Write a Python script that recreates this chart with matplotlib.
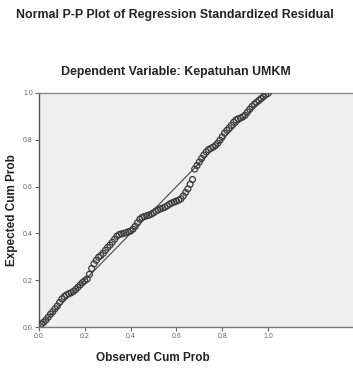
import matplotlib
matplotlib.use("Agg")
import matplotlib.pyplot as plt

plt.rcParams["font.family"] = ["Liberation Sans", "DejaVu Sans"]

# observed cumulative probability vs expected cumulative probability
observed = [0.01, 0.02, 0.03, 0.04, 0.05, 0.06, 0.07, 0.08, 0.09, 0.10,
            0.11, 0.12, 0.13, 0.14, 0.15, 0.16, 0.17, 0.18, 0.19, 0.20,
            0.21, 0.22, 0.23, 0.24, 0.25, 0.26, 0.27, 0.28, 0.29, 0.30,
            0.31, 0.32, 0.33, 0.34, 0.35, 0.36, 0.37, 0.38, 0.39, 0.40,
            0.41, 0.42, 0.43, 0.44, 0.45, 0.46, 0.47, 0.48, 0.49, 0.50,
            0.51, 0.52, 0.53, 0.54, 0.55, 0.56, 0.57, 0.58, 0.59, 0.60,
            0.61, 0.62, 0.63, 0.64, 0.65, 0.66, 0.67, 0.68, 0.69, 0.70,
            0.71, 0.72, 0.73, 0.74, 0.75, 0.76, 0.77, 0.78, 0.79, 0.80,
            0.81, 0.82, 0.83, 0.84, 0.85, 0.86, 0.87, 0.88, 0.89, 0.90,
            0.91, 0.92, 0.93, 0.94, 0.95, 0.96, 0.97, 0.98, 0.99, 1.00]
expected = [0.012, 0.020, 0.030, 0.042, 0.055, 0.065, 0.078, 0.090, 0.105, 0.120,
            0.130, 0.137, 0.142, 0.146, 0.152, 0.160, 0.170, 0.180, 0.190, 0.198,
            0.205, 0.225, 0.250, 0.270, 0.285, 0.298, 0.305, 0.315, 0.328, 0.340,
            0.350, 0.362, 0.375, 0.388, 0.395, 0.398, 0.400, 0.403, 0.407, 0.410,
            0.418, 0.430, 0.445, 0.460, 0.468, 0.472, 0.475, 0.478, 0.482, 0.488,
            0.495, 0.500, 0.505, 0.508, 0.512, 0.518, 0.525, 0.530, 0.534, 0.538,
            0.542, 0.548, 0.560, 0.575, 0.590, 0.610, 0.630, 0.675, 0.690, 0.705,
            0.720, 0.735, 0.748, 0.758, 0.763, 0.768, 0.775, 0.785, 0.798, 0.812,
            0.828, 0.840, 0.850, 0.862, 0.875, 0.885, 0.890, 0.893, 0.898, 0.905,
            0.918, 0.930, 0.942, 0.952, 0.960, 0.968, 0.976, 0.984, 0.992, 0.998]
ticks = [0.0, 0.2, 0.4, 0.6, 0.8, 1.0]
tick_labels = ["0.0", "0.2", "0.4", "0.6", "0.8", "1.0"]

fig = plt.figure(figsize=(3.53, 3.68), dpi=100)
ax = fig.add_axes([0.1105, 0.1114, 0.8895, 0.636])
ax.set_facecolor("#efefef")

ax.plot([0, 1], [0, 1], color="#444444", lw=0.8, zorder=2)
ax.scatter(observed, expected, s=18, facecolors="none", edgecolors="#3a3a3a",
           linewidths=0.9, zorder=3)

ax.set_xlim(0, 1.371)
ax.set_ylim(0, 1.0)
ax.set_xticks(ticks)
ax.set_xticklabels(tick_labels)
ax.set_yticks(ticks)
ax.set_yticklabels(tick_labels)
ax.tick_params(labelsize=5, length=3, width=0.8, colors="#666666", pad=1.5)

ax.spines["right"].set_visible(False)
ax.spines["left"].set_color("#555555")
ax.spines["bottom"].set_color("#777777")
ax.spines["top"].set_color("#888888")
for s in ax.spines.values():
    s.set_linewidth(1.0)

fig.text(0.496, 0.959, "Normal P-P Plot of Regression Standardized Residual",
         ha="center", va="center", fontsize=8.9, fontweight="bold", color="#222222")
fig.text(0.499, 0.804, "Dependent Variable: Kepatuhan UMKM",
         ha="center", va="center", fontsize=8.9, fontweight="bold", color="#222222")
fig.text(0.434, 0.027, "Observed Cum Prob", ha="center", va="center",
         fontsize=8.5, fontweight="bold", color="#222222")
fig.text(0.034, 0.43, "Expected Cum Prob", ha="center", va="center",
         rotation=90, fontsize=8.5, fontweight="bold", color="#222222")

fig.savefig("out.png", dpi=100)
